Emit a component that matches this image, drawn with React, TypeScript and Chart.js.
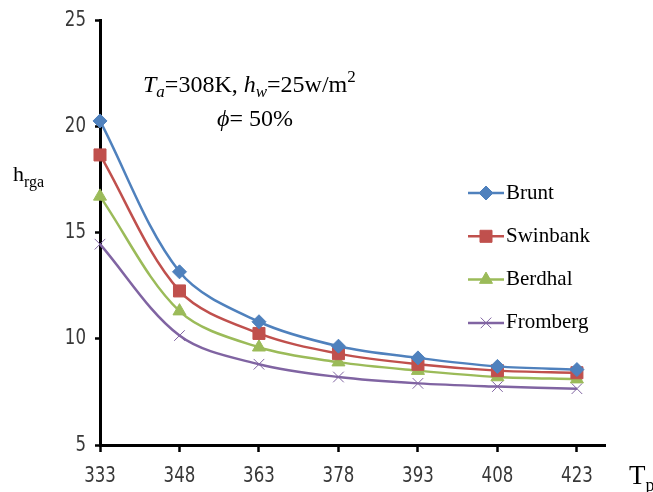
import React, { useEffect, useRef } from "react";
import { Chart, registerables } from "chart.js";
import { drawPoint } from "chart.js/helpers";

Chart.register(...registerables);

const tpValues = [333, 348, 363, 378, 393, 408, 423];
const yTicks = [5, 10, 15, 20, 25];
const brunt = [20.25, 13.15, 10.8, 9.65, 9.1, 8.7, 8.55];
const swinbank = [18.65, 12.25, 10.25, 9.3, 8.8, 8.5, 8.4];
const berdhal = [16.7, 11.3, 9.6, 8.9, 8.5, 8.2, 8.1];
const fromberg = [14.45, 10.15, 8.8, 8.2, 7.9, 7.75, 7.65];

const seriesNames = ["Brunt", "Swinbank", "Berdhal", "Fromberg"];
const seriesColors = ["#4F81BD", "#C0504D", "#9BBB59", "#8064A2"];
const seriesStyles = ["rectRot", "rect", "triangle", "crossRot"];
const seriesRadius = [7, 8.5, 7.5, 7.5];
const seriesValues = [brunt, swinbank, berdhal, fromberg];

const TICK_FONT = "'DejaVu Sans Condensed', 'DejaVu Sans', sans-serif";
const SERIF = "'Liberation Serif', 'DejaVu Serif', serif";

function runs(ctx: CanvasRenderingContext2D, x: number, y: number, parts: [string, string, number][]) {
  let cx = x;
  for (const [text, font, dy] of parts) {
    ctx.font = font;
    ctx.fillText(text, cx, y + dy);
    cx += ctx.measureText(text).width;
  }
}

function narrowText(ctx: CanvasRenderingContext2D, text: string, x: number, y: number, align: CanvasTextAlign) {
  ctx.save();
  ctx.translate(x, y);
  ctx.scale(0.84, 1);
  ctx.textAlign = align;
  ctx.fillText(text, 0, 0);
  ctx.restore();
}

const decorPlugin = {
  id: "decor",
  beforeDraw(chart: any) {
    const ctx = chart.ctx;
    ctx.save();
    ctx.fillStyle = "#ffffff";
    ctx.fillRect(0, 0, chart.width, chart.height);
    ctx.restore();
  },
  afterDraw(chart: any) {
    const ctx: CanvasRenderingContext2D = chart.ctx;
    ctx.save();
    // tick labels (positions from the library's scales)
    const xs = chart.scales.x;
    const ys = chart.scales.y;
    ctx.fillStyle = "#383838";
    ctx.font = `22px ${TICK_FONT}`;
    ctx.textBaseline = "middle";
    xs.ticks.forEach((t: any) => {
      narrowText(ctx, String(t.value), xs.getPixelForValue(t.value), 476, "center");
    });
    ys.ticks.forEach((t: any) => {
      narrowText(ctx, String(t.value), 86, ys.getPixelForValue(t.value), "right");
    });

    // legend
    seriesNames.forEach((name, i) => {
      const y = 193 + i * 43.3;
      ctx.strokeStyle = seriesColors[i];
      ctx.lineWidth = 2.5;
      ctx.beginPath();
      ctx.moveTo(468, y);
      ctx.lineTo(504, y);
      ctx.stroke();
      ctx.fillStyle = seriesColors[i];
      ctx.strokeStyle = seriesColors[i];
      ctx.lineWidth = 1;
      drawPoint(ctx, { pointStyle: seriesStyles[i], radius: seriesRadius[i], borderWidth: 1, rotation: 0 } as any, 486, y);
      ctx.fillStyle = "#000";
      ctx.textBaseline = "middle";
      ctx.textAlign = "left";
      ctx.font = `21px ${SERIF}`;
      ctx.fillText(name, 506, y);
    });

    ctx.fillStyle = "#000";
    ctx.textBaseline = "alphabetic";
    ctx.textAlign = "left";
    // annotation
    runs(ctx, 143, 92, [
      ["T", `italic 24px ${SERIF}`, 0],
      ["a", `italic 17px ${SERIF}`, 5],
      ["=308K, ", `24px ${SERIF}`, 0],
      ["h", `italic 24px ${SERIF}`, 0],
      ["w", `italic 17px ${SERIF}`, 5],
      ["=25w/m", `24px ${SERIF}`, 0],
      ["2", `17px ${SERIF}`, -10],
    ]);
    runs(ctx, 217, 126, [
      ["ϕ", `italic 24px ${SERIF}`, 0],
      ["= 50%", `24px ${SERIF}`, 0],
    ]);
    // y title
    runs(ctx, 13, 181, [
      ["h", `22px ${SERIF}`, 0],
      ["rga", `16px ${SERIF}`, 6],
    ]);
    // x title
    runs(ctx, 629, 484, [
      ["T", `27px ${SERIF}`, 0],
      ["p", `18px ${SERIF}`, 7],
    ]);
    ctx.restore();
  },
};

export default function App() {
  const ref = useRef<HTMLCanvasElement>(null);
  useEffect(() => {
    document.body.style.margin = "0";
    const datasets = seriesNames.map((name, i) => ({
      label: name,
      data: tpValues.map((x, j) => ({ x, y: seriesValues[i][j] })),
      borderColor: seriesColors[i],
      backgroundColor: seriesColors[i],
      pointBackgroundColor: seriesColors[i],
      pointBorderColor: seriesColors[i],
      borderWidth: 2.5,
      pointStyle: seriesStyles[i],
      pointRadius: seriesRadius[i],
      pointBorderWidth: 1,
      tension: 0.33,
      clip: false as any,
    }));
    const chart = new Chart(ref.current!, {
      type: "line",
      data: { datasets },
      options: {
        animation: false,
        responsive: false,
        layout: { padding: { top: 20, right: 48, left: 0, bottom: 0 } },
        plugins: { legend: { display: false }, tooltip: { enabled: false } },
        scales: {
          x: {
            type: "linear",
            min: 333,
            max: 428.3,
            afterBuildTicks: (s: any) => {
              s.ticks = tpValues.map((v) => ({ value: v }));
            },
            afterFit: (s: any) => {
              s.height = 47;
            },
            grid: { drawOnChartArea: false, color: "#000", tickLength: 7, tickWidth: 2.5 },
            border: { color: "#000", width: 3 },
            ticks: { display: false, autoSkip: false },
          },
          y: {
            type: "linear",
            min: 5,
            max: 25,
            afterBuildTicks: (s: any) => {
              s.ticks = yTicks.map((v) => ({ value: v }));
            },
            afterFit: (s: any) => {
              s.width = 100;
            },
            grid: { drawOnChartArea: false, color: "#000", tickLength: 5, tickWidth: 2.5 },
            border: { color: "#000", width: 3 },
            ticks: { display: false },
          },
        },
      },
      plugins: [decorPlugin],
    });
    return () => chart.destroy();
  }, []);
  return (
    <div style={{ position: "fixed", left: 0, top: 0, width: 653, height: 492, background: "#fff" }}>
      <canvas ref={ref} width={653} height={492} />
    </div>
  );
}
